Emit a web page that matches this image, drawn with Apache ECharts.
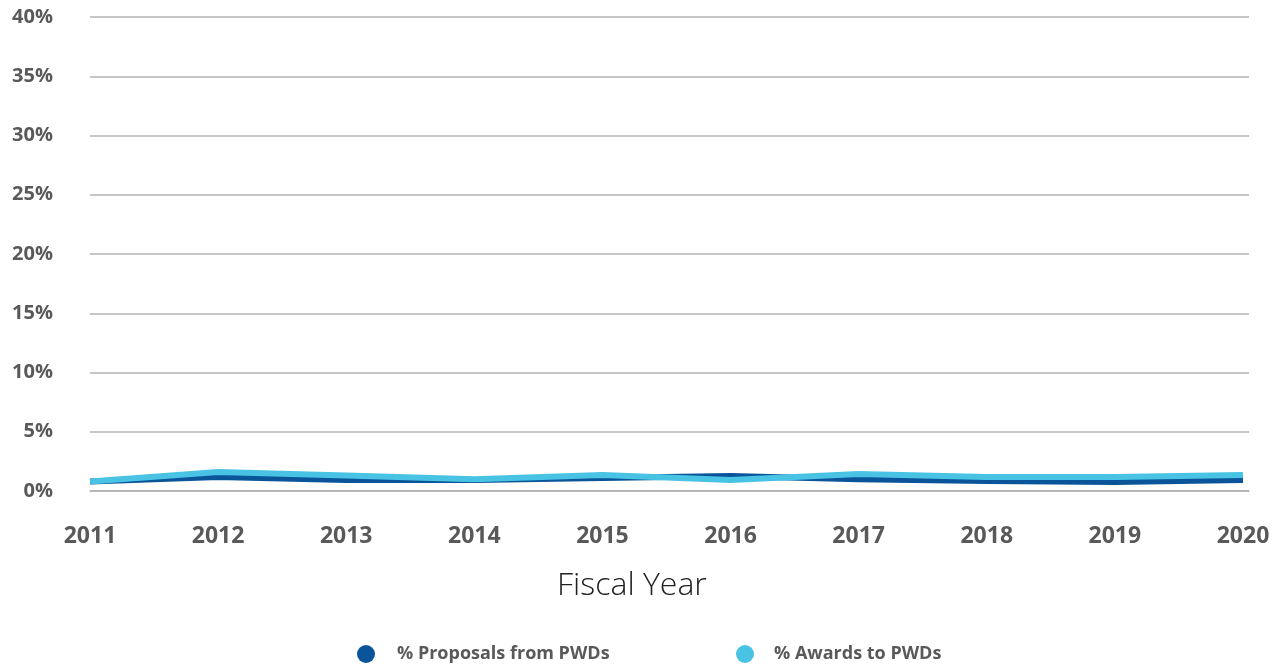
<!DOCTYPE html>
<html>
<head>
<meta charset="utf-8">
<script src="https://cdn.jsdelivr.net/npm/echarts@6/dist/echarts.min.js"></script>
<style>html,body{margin:0;padding:0;background:#fff;}#c{width:1282px;height:666px;}</style>
</head>
<body>
<div id="c"></div>
<script>
const years = [2011, 2012, 2013, 2014, 2015, 2016, 2017, 2018, 2019, 2020];
const proposals = [0.8, 1.18, 0.93, 0.93, 1.1, 1.27, 1.0, 0.84, 0.76, 0.93];
const awards = [0.8, 1.6, 1.3, 1.0, 1.35, 0.93, 1.43, 1.18, 1.18, 1.35];
const yTicks = [0, 5, 10, 15, 20, 25, 30, 35, 40];

const chart = echarts.init(document.getElementById('c'));
chart.setOption({
  animation: false,
  grid: {left: 90, right: 33, top: 17, bottom: 175, containLabel: false},
  title: {text: 'Fiscal Year', left: 552, top: 565,
    textStyle: {fontFamily: 'Open Sans', fontWeight: 300, fontSize: 32, color: '#222'}},
  legend: [
    {data: ['% Proposals from PWDs'], left: 352, top: 640, icon: 'circle', itemWidth: 18, itemHeight: 18, itemGap: 15,
     textStyle: {fontFamily: 'Open Sans', fontWeight: 'bold', fontSize: 18, color: '#595959', padding: [0,0,0,17]}},
    {data: ['% Awards to PWDs'], left: 731, top: 640, icon: 'circle', itemWidth: 18, itemHeight: 18,
     textStyle: {fontFamily: 'Open Sans', fontWeight: 'bold', fontSize: 18, color: '#595959', padding: [0,0,0,15]}}
  ],
  xAxis: {
    type: 'value', min: 2011, max: 2020.047, interval: 1,
    splitLine: {show: false},
    axisLine: {show: true, lineStyle: {color: '#b3b3b3', width: 1.5}},
    axisTick: {show: false},
    axisLabel: {fontFamily: 'Open Sans', fontWeight: 'bold', fontSize: 23, color: '#595959', margin: 34,
      showMaxLabel: false,
      formatter: v => years.includes(v) ? String(v) : ''}
  },
  yAxis: {
    type: 'value', min: 0, max: 40, interval: 5,
    axisLine: {show: false}, axisTick: {show: false},
    splitLine: {lineStyle: {color: '#b3b3b3', width: 1.5}},
    axisLabel: {fontFamily: 'Open Sans', fontWeight: 'bold', fontSize: 20, color: '#595959', margin: 37,
      formatter: v => yTicks.includes(v) ? v + '%' : ''}
  },
  series: [
    {name: '% Proposals from PWDs', type: 'line', data: years.map((y, i) => [y, proposals[i]]), symbol: 'none',
     lineStyle: {width: 6, color: '#0a5499'}, itemStyle: {color: '#0a5499'}, z: 2},
    {name: '% Awards to PWDs', type: 'line', data: years.map((y, i) => [y, awards[i]]), symbol: 'none',
     lineStyle: {width: 6, color: '#49c3e3'}, itemStyle: {color: '#49c3e3'}, z: 3}
  ]
});
</script>
</body>
</html>
